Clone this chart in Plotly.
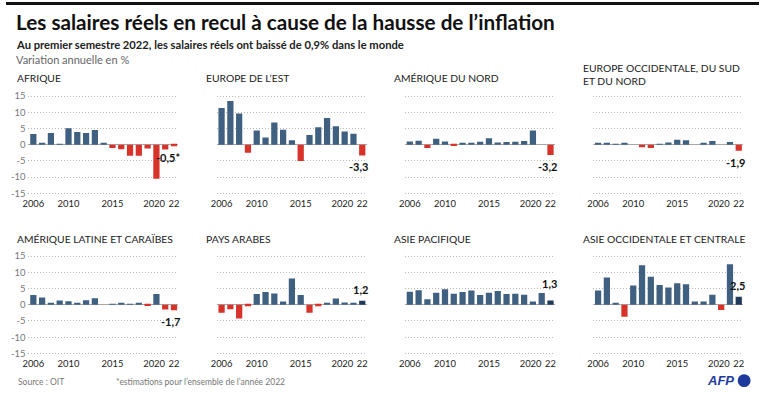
import plotly.graph_objects as go

W, H = 760, 395
FONT = "Lato, Roboto, sans-serif"

years = list(range(2006, 2023))
tick_vals = [2006, 2010, 2015, 2020, 2022]
tick_text = ["2006", "2010", "2015", "2020\u2002", "22"]
y_ticks = [-15, -10, -5, 0, 5, 10, 15]
y_tick_text = ["-15", "-10", "-5", "0", "5", "10", "15"]

region_names = [
    "AFRIQUE", "EUROPE DE L\u2019EST", "AMÉRIQUE DU NORD", "EUROPE OCCIDENTALE, DU SUD<br>ET DU NORD",
    "AMÉRIQUE LATINE ET CARAÏBES", "PAYS ARABES", "ASIE PACIFIQUE", "ASIE OCCIDENTALE ET CENTRALE",
]

afrique = [3.3, 0.6, 3.6, 0.2, 5.1, 3.9, 3.6, 4.5, 0.4, -1.0, -1.4, -3.4, -3.4, -1.2, -10.5, -1.5, -0.5]
europe_est = [11.3, 13.5, 9.6, -2.5, 4.4, 2.2, 6.8, 4.6, 1.4, -5.0, 3.0, 5.4, 8.2, 5.7, 4.1, 3.4, -3.3]
amerique_nord = [1.0, 1.2, -1.0, 1.8, 1.0, -0.4, 0.4, 0.5, 0.9, 2.0, 0.7, 0.8, 0.9, 1.1, 4.4, 0.0, -3.2]
europe_occ = [0.4, 0.6, 0.1, 0.5, 0.0, -0.8, -1.0, 0.2, 0.7, 1.5, 1.4, 0.0, 0.4, 1.1, 0.0, 0.8, -1.9]
amerique_latine = [3.0, 2.2, 0.3, 1.3, 1.1, 0.6, 1.4, 2.0, 0.0, 0.2, 0.3, 0.1, 0.5, -0.4, 3.3, -1.5, -1.7]
pays_arabes = [-2.5, -1.4, -4.2, -0.5, 3.3, 3.9, 3.5, 1.0, 8.1, 3.0, -2.5, -0.5, 0.3, 1.9, 0.7, 0.4, 1.2]
asie_pacifique = [4.0, 4.5, 1.7, 3.7, 4.8, 3.4, 3.9, 4.4, 3.0, 3.7, 4.2, 3.3, 3.4, 3.1, 1.0, 3.6, 1.3]
asie_occ = [4.4, 8.4, 0.6, -3.7, 5.9, 12.2, 8.6, 6.1, 5.3, 6.6, 6.3, 1.0, 1.0, 3.1, -1.6, 12.5, 2.5]

series = [afrique, europe_est, amerique_nord, europe_occ,
          amerique_latine, pays_arabes, asie_pacifique, asie_occ]
last_labels = ["-0,5*", "-3,3", "-3,2", "-1,9", "-1,7", "1,2", "1,3", "2,5"]
label_yshift = [-3, -3, -3, -3, -3, 3, 9, 3]

POS = "#3f6080"
POS_LAST = "#1e3a58"
NEG = "#d7332a"

col_left = [22.7, 212.7, 402.7, 592.7]
col_w = 151.3
row_top = [91.7, 253.4]
row_bot = [196.6, 358.3]
title_x = [9, 200, 390, 580]
title_y = [77, 239]

fig = go.Figure()
annotations = []

for i, vals in enumerate(series):
    r, c = divmod(i, 4)
    n = i + 1
    xa = "x" if n == 1 else f"x{n}"
    ya = "y" if n == 1 else f"y{n}"
    colors = []
    for j, v in enumerate(vals):
        if v < 0:
            colors.append(NEG)
        elif j == len(vals) - 1:
            colors.append(POS_LAST)
        else:
            colors.append(POS)
    fig.add_trace(go.Bar(x=years, y=vals, marker=dict(color=colors, line=dict(width=0)),
                         xaxis=xa, yaxis=ya, showlegend=False, hoverinfo="x+y"))
    xkey = "xaxis" if n == 1 else f"xaxis{n}"
    ykey = "yaxis" if n == 1 else f"yaxis{n}"
    fig.layout[xkey] = dict(
        domain=[col_left[c] / W, (col_left[c] + col_w) / W],
        range=[2005.45, 2022.5], anchor=ya,
        tickmode="array", tickvals=tick_vals, ticktext=tick_text, tickangle=0,
        showgrid=False, zeroline=False, showline=False, ticks="",
        tickfont=dict(family=FONT, size=9.4, color="#222"),
        fixedrange=True,
    )
    fig.layout[ykey] = dict(
        domain=[1 - row_bot[r] / H, 1 - row_top[r] / H],
        range=[-16, 16], anchor=xa,
        tickmode="array", tickvals=y_ticks, ticktext=y_tick_text,
        showticklabels=(c == 0), ticks="",
        showgrid=True, gridcolor="#b8b8b8", griddash="1px,2px", gridwidth=1,
        zeroline=True, zerolinecolor="#a8a8a8", zerolinewidth=1,
        showline=False, ticklabelstandoff=2,
        tickfont=dict(family=FONT, size=9.5, color="#777"),
        fixedrange=True,
    )
    last = vals[-1]
    annotations.append(dict(
        x=years[-1], y=last, xref=xa, yref=ya, text="<b>" + last_labels[i] + "</b>",
        showarrow=False, xanchor="right", xshift=8,
        yanchor="top" if last < 0 else "bottom", yshift=label_yshift[i],
        font=dict(family=FONT, size=11, color="#111"),
    ))
    annotations.append(dict(
        x=title_x[c] / W, y=1 - (title_y[r] if i != 3 else 73) / H, xref="paper", yref="paper",
        text=region_names[i], showarrow=False, xanchor="left", yanchor="middle",
        align="left",
        font=dict(family=FONT, size=10.3, color="#222"),
    ))

annotations += [
    dict(x=8 / W, y=1 - 20 / H, xref="paper", yref="paper", xanchor="left", yanchor="middle",
         text="<b>Les salaires réels en recul à cause de la hausse de l\u2019inflation</b>",
         showarrow=False, font=dict(family=FONT, size=20.7, color="#111")),
    dict(x=8 / W, y=1 - 42.5 / H, xref="paper", yref="paper", xanchor="left", yanchor="middle",
         text="<b>Au premier semestre 2022, les salaires réels ont baissé de 0,9% dans le monde</b>",
         showarrow=False, font=dict(family=FONT, size=11.2, color="#222")),
    dict(x=8 / W, y=1 - 58.5 / H, xref="paper", yref="paper", xanchor="left", yanchor="middle",
         text="Variation annuelle en %",
         showarrow=False, font=dict(family=FONT, size=11, color="#666")),
    dict(x=10 / W, y=1 - 384 / H, xref="paper", yref="paper", xanchor="left", yanchor="middle",
         text="Source : OIT", showarrow=False, font=dict(family=FONT, size=8.5, color="#777")),
    dict(x=109 / W, y=1 - 384 / H, xref="paper", yref="paper", xanchor="left", yanchor="middle",
         text="*estimations pour l\u2019ensemble de l\u2019année 2022", showarrow=False,
         font=dict(family=FONT, size=8.5, color="#777")),
    dict(x=737 / W, y=1 - 382.5 / H, xref="paper", yref="paper", xanchor="right", yanchor="middle",
         text="<b><i>AFP</i></b>", showarrow=False,
         font=dict(family="Liberation Sans, Arial, sans-serif", size=13, color="#1d3a9c")),
]

shapes = [
    dict(type="rect", xref="paper", yref="paper", x0=0, x1=1, y0=1 - 3 / H, y1=1,
         fillcolor="#111", line=dict(width=0), layer="above"),
    dict(type="circle", xref="paper", yref="paper",
         x0=738.5 / W, x1=751.5 / W, y0=1 - 389 / H, y1=1 - 376 / H,
         fillcolor="#1d3a9c", line=dict(width=0)),
]

fig.update_layout(
    width=W, height=H, margin=dict(l=0, r=0, t=0, b=0),
    paper_bgcolor="white", plot_bgcolor="white",
    bargap=0.29, annotations=annotations, shapes=shapes,
    font=dict(family=FONT),
)

fig.write_html("out.html", config={"displayModeBar": False},
               post_script="document.body.style.margin='0';document.body.style.overflow='hidden';")
